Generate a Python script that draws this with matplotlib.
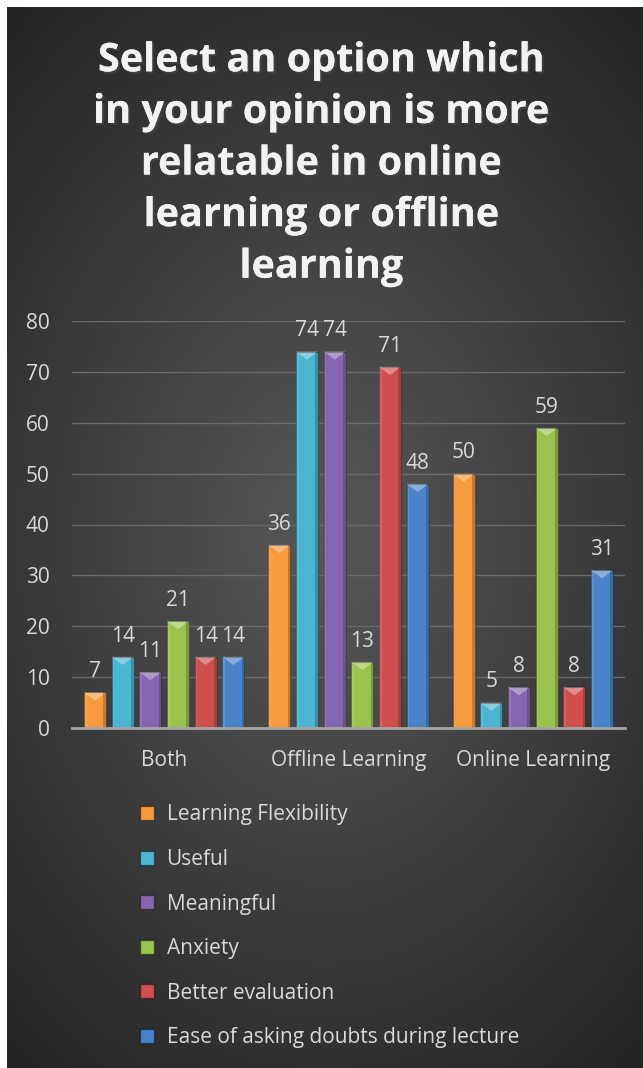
import numpy as np
import matplotlib.pyplot as plt
from matplotlib.patches import Polygon
from matplotlib.lines import Line2D
import matplotlib.patheffects as pe

categories = ["Both", "Offline Learning", "Online Learning"]
series = ["Learning Flexibility", "Useful", "Meaningful", "Anxiety",
          "Better evaluation", "Ease of asking doubts during lecture"]
values = {
    "Learning Flexibility": [7, 36, 50],
    "Useful": [14, 74, 5],
    "Meaningful": [11, 74, 8],
    "Anxiety": [21, 13, 59],
    "Better evaluation": [14, 71, 8],
    "Ease of asking doubts during lecture": [14, 48, 31],
}
colors = ["#F79A3E", "#4BB6D2", "#8566B0", "#9CC24E", "#CF4F4E", "#4A84C8"]
yticks = [0, 10, 20, 30, 40, 50, 60, 70, 80]

plt.rcParams['font.family'] = ['Open Sans', 'DejaVu Sans']
W, H = 643, 1068
fig = plt.figure(figsize=(W / 100, H / 100), dpi=100, facecolor="white")

# dark radial background
bg = fig.add_axes([7 / W, 0, 1 - 7 / W, 1 - 7 / H], zorder=-10)
yy, xx = np.mgrid[0:1:400j, 0:1:240j]
r = np.sqrt(((xx - 0.5) / 0.9) ** 2 + ((yy - 0.5) / 0.75) ** 2)
grad = np.clip(1 - r, 0, 1)
bg.imshow(grad, cmap=plt.matplotlib.colors.LinearSegmentedColormap.from_list(
    "bg", ["#242424", "#585858"]), aspect="auto", extent=[0, 1, 0, 1])
bg.axis("off")

title = ("Select an option which\nin your opinion is more\nrelatable in online\n"
         "learning or offline\nlearning")
fig.text(0.5, 1 - 164 / H, title, ha="center", va="center", fontsize=28.5,
         fontweight="bold", color="#F2F2F2", linespacing=1.42,
         path_effects=[pe.withSimplePatchShadow(offset=(1.5, -1.5), alpha=0.6),
                       pe.Normal()])

ax = fig.add_axes([72 / W, 1 - 728 / H, (625 - 72) / W, (728 - 321) / H])
ax.set_facecolor("none")
x = np.arange(len(categories))
step, width = 0.15, 0.12
bev = 1.6
for j, (name, c) in enumerate(zip(series, colors)):
    bars = ax.bar(x + (j - 2.5) * step, values[name], width, color=c,
                  edgecolor="#00000055", linewidth=0.8, zorder=3, label=name)
    for b, v in zip(bars, values[name]):
        bx, bw, bh = b.get_x(), b.get_width(), b.get_height()
        # light bevel on top of bar
        ax.add_patch(Polygon([(bx, bh), (bx + bw, bh), (bx + bw * 0.5, bh - bev)],
                             closed=True, facecolor="white", alpha=0.35,
                             edgecolor="none", zorder=4))
        ax.add_patch(plt.Rectangle((bx, 0), bw * 0.12, bh, facecolor="white",
                                   alpha=0.12, edgecolor="none", zorder=4))
        ax.add_patch(plt.Rectangle((bx + bw * 0.88, 0), bw * 0.12, bh,
                                   facecolor="black", alpha=0.2,
                                   edgecolor="none", zorder=4))
        ax.text(bx + bw / 2, bh + 2.0, str(v), ha="center", va="bottom",
                fontsize=15, color="#D9D9D9")

ax.set_ylim(0, 80)
ax.set_xlim(-0.5, 2.5)
ax.set_yticks(yticks)
ax.set_xticks(x)
ax.set_xticklabels(categories)
ax.tick_params(axis="both", length=0, colors="#D9D9D9", labelsize=15)
ax.tick_params(axis="y", pad=16)
ax.tick_params(axis="x", pad=16)
ax.yaxis.grid(True, color="#6A6A6A", linewidth=1.0, zorder=0)
ax.set_axisbelow(True)
for s in ["top", "right", "left"]:
    ax.spines[s].set_visible(False)
ax.spines["bottom"].set_color("#A6A6A6")
ax.spines["bottom"].set_linewidth(2)
ax.spines["bottom"].set_zorder(5)

handles = [Line2D([], [], marker="s", linestyle="none", markersize=10,
                  markerfacecolor=c, markeredgecolor="#00000066")
           for c in colors]
fig.legend(handles, series, loc="upper left",
           bbox_to_anchor=(126 / W, 1 - 794 / H), frameon=False,
           fontsize=15, labelcolor="#D9D9D9", labelspacing=1.13,
           handletextpad=0.45, handlelength=1.0, borderpad=0)

fig.savefig("out.png", dpi=100, facecolor="white")
